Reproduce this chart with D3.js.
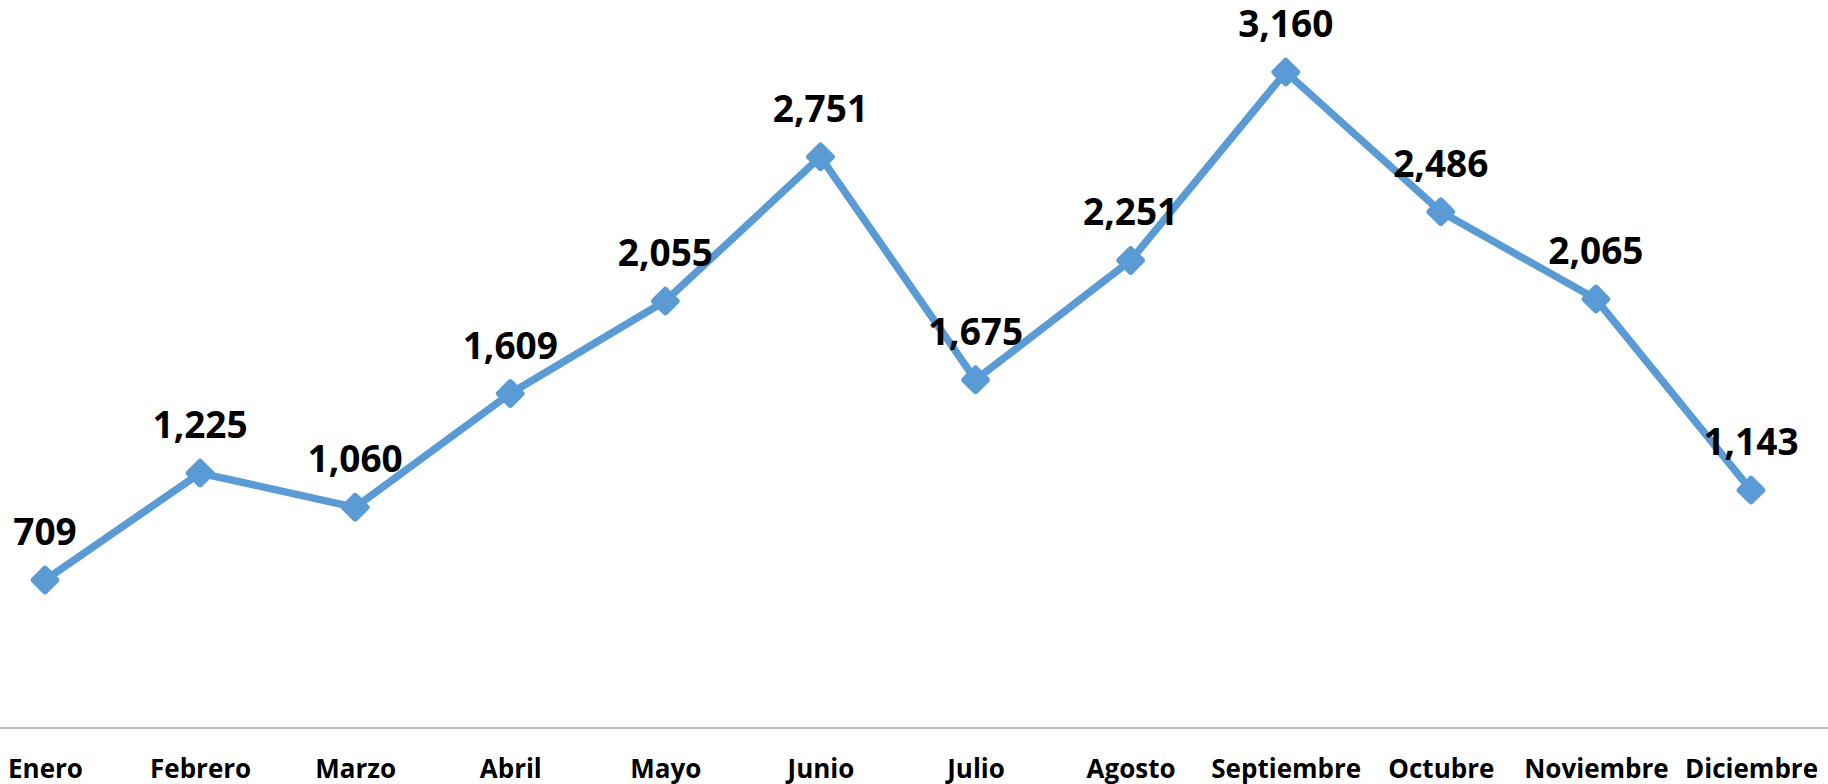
<!DOCTYPE html>
<html>
<head>
<meta charset="utf-8">
<script src="https://cdn.jsdelivr.net/npm/d3@7"></script>
<style>
  html, body { margin: 0; padding: 0; background: #fff; overflow: hidden; }
  svg { display: block; }
</style>
</head>
<body>
<svg id="chart" width="1828" height="784"></svg>
<script>
// meses y valores
const meses = ["Enero", "Febrero", "Marzo", "Abril", "Mayo", "Junio", "Julio",
  "Agosto", "Septiembre", "Octubre", "Noviembre", "Diciembre"];
const valores = [709, 1225, 1060, 1609, 2055, 2751, 1675, 2251, 3160, 2486, 2065, 1143];

const svg = d3.select("#chart");
const W = 1828, H = 784;

const x = d3.scalePoint().domain(meses).range([45, 1751]);
const y = d3.scaleLinear().domain([0, 3500]).range([727, 1.6]);

const azul = "#5b9bd5";
const fmt = d3.format(",");

// eje X (solo linea base + etiquetas)
const xAxis = svg.append("g")
  .attr("transform", `translate(0,${y(0) + 1})`)
  .call(d3.axisBottom(x).tickSize(0).tickPadding(0));
xAxis.select(".domain").remove();
xAxis.append("line")
  .attr("x1", 0).attr("x2", W)
  .attr("stroke", "#a6a6a6").attr("stroke-width", 1.5);
xAxis.selectAll(".tick text")
  .attr("dy", 0)
  .attr("y", 50)
  .attr("fill", "#000")
  .style("font-family", "'Open Sans', sans-serif")
  .style("font-weight", "bold")
  .style("font-size", "26px");

// linea
const line = d3.line()
  .x((d, i) => x(meses[i]))
  .y(d => y(d));

svg.append("path")
  .datum(valores)
  .attr("fill", "none")
  .attr("stroke", azul)
  .attr("stroke-width", 7.5)
  .attr("stroke-linejoin", "round")
  .attr("d", line);

// marcadores (rombos)
svg.selectAll(".marker")
  .data(valores)
  .enter()
  .append("rect")
  .attr("class", "marker")
  .attr("x", -11).attr("y", -11)
  .attr("width", 22).attr("height", 22)
  .attr("rx", 3)
  .attr("fill", azul)
  .attr("transform", (d, i) => `translate(${x(meses[i])},${y(d)}) rotate(45)`);

// etiquetas de datos
svg.selectAll(".label")
  .data(valores)
  .enter()
  .append("text")
  .attr("class", "label")
  .attr("x", (d, i) => x(meses[i]))
  .attr("y", d => y(d) - 35)
  .attr("text-anchor", "middle")
  .attr("fill", "#000")
  .style("font-family", "'Open Sans', sans-serif")
  .style("font-weight", "bold")
  .style("font-size", "37px")
  .text(d => fmt(d));
</script>
</body>
</html>
